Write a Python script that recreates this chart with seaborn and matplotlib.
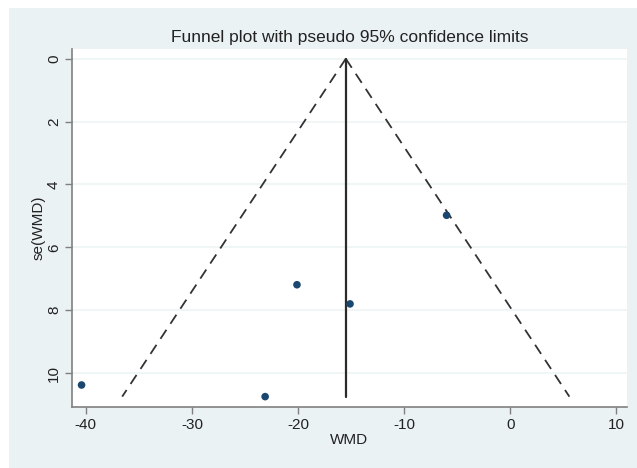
import numpy as np
import pandas as pd
import matplotlib
matplotlib.use("Agg")
import matplotlib.pyplot as plt
import seaborn as sns
from matplotlib.patches import Rectangle

# Study effects (WMD) and their standard errors
wmd = [-40.4, -23.1, -20.1, -15.1, -6.0]
se_wmd = [10.38, 10.75, 7.19, 7.80, 4.98]
pooled = -15.5
x_ticks = [-40, -30, -20, -10, 0, 10]
y_ticks = [0, 2, 4, 6, 8, 10]

studies = pd.DataFrame({"WMD": wmd, "se(WMD)": se_wmd})

sns.set_style("white")
plt.rcParams['font.family'] = ['Liberation Sans', 'DejaVu Sans']
plt.rcParams['axes.unicode_minus'] = False

bg = "#eaf2f3"
fig = plt.figure(figsize=(6.37, 4.68), dpi=100)
fig.patches.append(Rectangle((9 / 637, 0), 1, 460 / 468, transform=fig.transFigure,
                             facecolor=bg, edgecolor="none", zorder=-10))
ax = fig.add_axes([72 / 637, 61 / 468, 555 / 637, 358 / 468])
ax.set_facecolor("white")

# horizontal grid
for t in y_ticks:
    ax.axhline(t, color="#eef3f4", lw=1.2, zorder=0)

# pseudo 95% confidence limits
se_max = max(se_wmd)
se_line = np.array([0, se_max])
ax.plot(pooled - 1.96 * se_line, se_line, color="#333333", lw=1.3, ls=(0, (6, 4)), zorder=2)
ax.plot(pooled + 1.96 * se_line, se_line, color="#333333", lw=1.3, ls=(0, (6, 4)), zorder=2)
ax.plot([pooled, pooled], [0, se_max], color="#2b2b2b", lw=1.6, zorder=2)

sns.scatterplot(data=studies, x="WMD", y="se(WMD)", ax=ax, color="#1a476f",
                s=30, edgecolor="none", zorder=3)

ax.set_xlim(-41.3, 11.0)
ax.set_ylim(11.08, -0.31)
ax.set_xticks(x_ticks)
ax.set_yticks(y_ticks)
ax.set_xticklabels([str(t) for t in x_ticks])
ax.set_yticklabels([str(t) for t in y_ticks], rotation=90, va="center")
ax.tick_params(axis="both", length=5, width=1, color="#808080", labelsize=11,
               labelcolor="#222222", pad=3, bottom=True, left=True)

for side in ["top", "right"]:
    ax.spines[side].set_visible(False)
for side in ["left", "bottom"]:
    ax.spines[side].set_color("#808080")
    ax.spines[side].set_linewidth(1.2)

ax.set_xlabel("WMD", fontsize=11, color="#222222", labelpad=1)
ax.set_ylabel("se(WMD)", fontsize=11, color="#222222", labelpad=1)
ax.set_title("Funnel plot with pseudo 95% confidence limits", fontsize=12.5,
             color="#222222", pad=5)

fig.savefig("out.png", dpi=100)
